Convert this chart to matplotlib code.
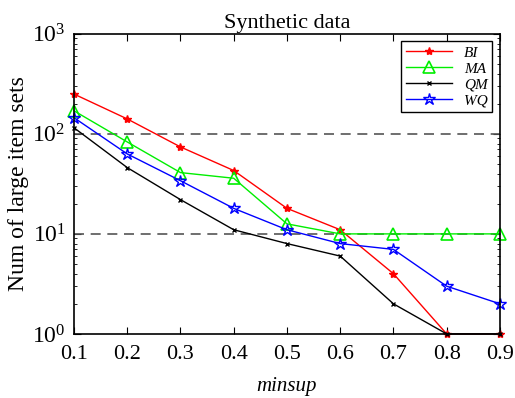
import matplotlib
matplotlib.use("Agg")
import matplotlib.pyplot as plt

plt.rcParams['font.family'] = 'Liberation Serif'
plt.rcParams['mathtext.fontset'] = 'stix'

minsup = [0.1, 0.2, 0.3, 0.4, 0.5, 0.6, 0.7, 0.8, 0.9]
bi = [250, 141, 74, 43, 18, 11, 4, 1, 1]
ma = [170, 83, 41, 36, 12.6, 10, 10, 10, 10]
qm = [115, 46, 22, 11, 8, 6, 2, 1, 1]
wq = [145, 63, 34, 18, 11, 8, 7, 3, 2]

fig = plt.figure(figsize=(5.15, 3.98), dpi=100)
ax = fig.add_axes([0.1437, 0.161, 0.827, 0.754])

# dashed reference lines at 10 and 100
ax.axhline(100, color='#555555', ls=(0, (6, 4)), lw=1.2)
ax.axhline(10, color='#555555', ls=(0, (6, 4)), lw=1.2)

ax.plot(minsup, bi, color='red', marker='*', ms=6, lw=1, label='BI', clip_on=False)
ax.plot(minsup, ma, color='#00ee00', marker='^', ms=9, mfc='none', mew=1.2, lw=1, label='MA', clip_on=False)
ax.plot(minsup, qm, color='black', marker='x', ms=3.5, lw=1, label='QM', clip_on=False)
ax.plot(minsup, wq, color='blue', marker='*', ms=9, mfc='none', lw=1, label='WQ', clip_on=False)

ax.set_yscale('log')
ax.set_xlim(0.1, 0.9)
ax.set_ylim(1, 1000)
ax.set_xticks(minsup)
ax.tick_params(which='both', direction='in', top=True, right=True)
ax.tick_params(axis='x', labelsize=16, pad=8)
ax.tick_params(axis='y', labelsize=17, pad=6)
ax.tick_params(which='major', length=5)
ax.tick_params(which='minor', length=2.5)
for s in ax.spines.values():
    s.set_linewidth(1.2)

ax.set_title('Synthetic data', fontsize=16, pad=4)
ax.set_xlabel('minsup', fontsize=15, style='italic', labelpad=9)
ax.set_ylabel('Num of large item sets', fontsize=17, labelpad=2)

leg = ax.legend(loc='upper right', prop={'style': 'italic', 'size': 11},
                fancybox=False, edgecolor='black', framealpha=1,
                handlelength=3.0, borderpad=0.3, labelspacing=0.15,
                borderaxespad=0.5)
leg.get_frame().set_linewidth(1)

fig.savefig('out.png', dpi=100)
